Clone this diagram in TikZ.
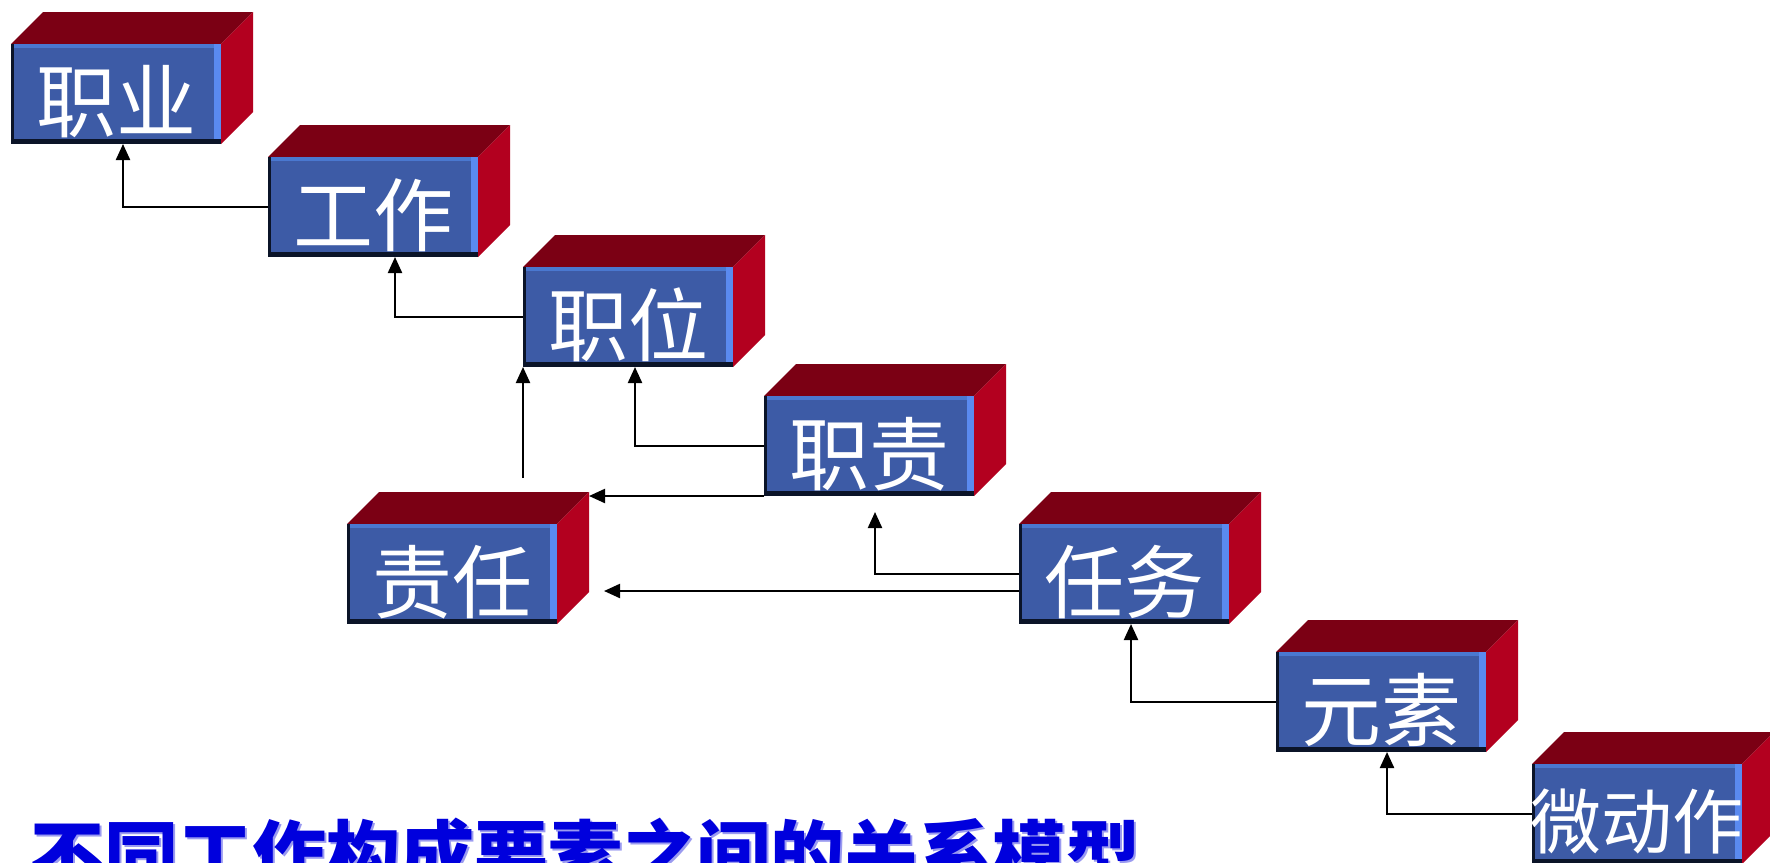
\documentclass[tikz,border=0pt]{standalone}
\usepackage{fontspec}
\newfontfamily\cjk{Noto Sans CJK SC}
\usetikzlibrary{arrows.meta,calc}
\definecolor{frontblue}{HTML}{3D5BA6}
\definecolor{striplight}{HTML}{4A78D0}
\definecolor{stripright}{HTML}{5A8AF0}
\definecolor{stripdark}{HTML}{0B1428}
\definecolor{topred}{HTML}{7B0014}
\definecolor{sidered}{HTML}{B3001F}
\definecolor{titleblue}{HTML}{0000DD}
\definecolor{titleshadow}{HTML}{9A9AF0}
\tikzset{
  front/.style={rectangle,fill=frontblue,minimum width=105pt,minimum height=50pt,inner sep=0pt,outer sep=0pt},
  boxtext/.style={text=white,font=\cjk\fontsize{40pt}{40pt}\selectfont,inner sep=0pt},
  topface/.style={fill=topred},
  sideface/.style={fill=sidered},
  conn/.style={draw=black,line width=1.1pt,-{Triangle[length=8pt,width=7pt]}},
  title/.style={font=\cjk\bfseries\fontsize{37pt}{37pt}\selectfont,inner sep=0pt}
}
\newcommand\cubebox[5][]{%
  \node[front] (#2) at (#3+105,#4+50) {};
  \fill[topface] (#2.north west) -- ++(32,-32) -- ++(210,0) -- (#2.north east) -- cycle;
  \fill[sideface] (#2.north east) -- ++(32,-32) -- ++(0,100) -- (#2.south east) -- cycle;
  \fill[striplight] (#2.north west) rectangle ($(#2.north east)+(0,4)$);
  \fill[stripright] ($(#2.north east)+(-7,0)$) rectangle (#2.south east);
  \fill[stripdark] (#2.north west) rectangle ($(#2.south west)+(3,0)$);
  \fill[stripdark] ($(#2.south west)+(0,-5)$) rectangle (#2.south east);
  \node[boxtext,#1] (#2-t) at ($(#2.center)+(0,8)$) {#5};
}
\begin{document}
\begin{tikzpicture}[x=0.5pt,y=-0.5pt]
\useasboundingbox[fill=white] (0,0) rectangle (1770,862);
\cubebox{zy}{11}{44}{职业}
\cubebox{gz}{268}{157}{工作}
\cubebox{zw}{523}{267}{职位}
\cubebox{zz}{764}{396}{职责}
\cubebox{zr}{347}{524}{责任}
\cubebox{rw}{1019}{524}{任务}
\cubebox{ys}{1276}{652}{元素}
\cubebox[font=\cjk\fontsize{35.5pt}{35.5pt}\selectfont]{wd}{1532}{764}{微动作}
% connectors
\draw[conn] (gz.west) -| ([xshift=3.5pt]zy.south);
\draw[conn] (zw.west) -| ([xshift=11pt]gz.south);
\draw[conn] (zz.west) -| ([xshift=3.5pt]zw.south);
\coordinate (rstart) at ($(zr.north west)+(176,-46)$);
\draw[conn] (rstart) -- (rstart |- zw.south);
\coordinate (rtip) at ($(zr.north east)+(32,0)$);
\draw[conn] (zz.south west) -- (rtip |- zz.south west);
\draw[conn] (rw.west) -| ([xshift=3pt,yshift=-8pt]zz.south);
\coordinate (rwlow) at ([yshift=-8.5pt]rw.west);
\coordinate (rtip2) at ($(zr.east)+(47,0)$);
\draw[conn] (rwlow) -- (rtip2 |- rwlow);
\draw[conn] (ys.west) -| ([xshift=3.5pt]rw.south);
\draw[conn] (wd.west) -| ([xshift=3pt]ys.south);
% title
\node[title,text=titleshadow,anchor=base west] (ttlshadow) at (32,884) {不同工作构成要素之间的关系模型};
\node[title,text=titleblue,anchor=base west] (ttl) at (30,882) {不同工作构成要素之间的关系模型};
\end{tikzpicture}
\end{document}
